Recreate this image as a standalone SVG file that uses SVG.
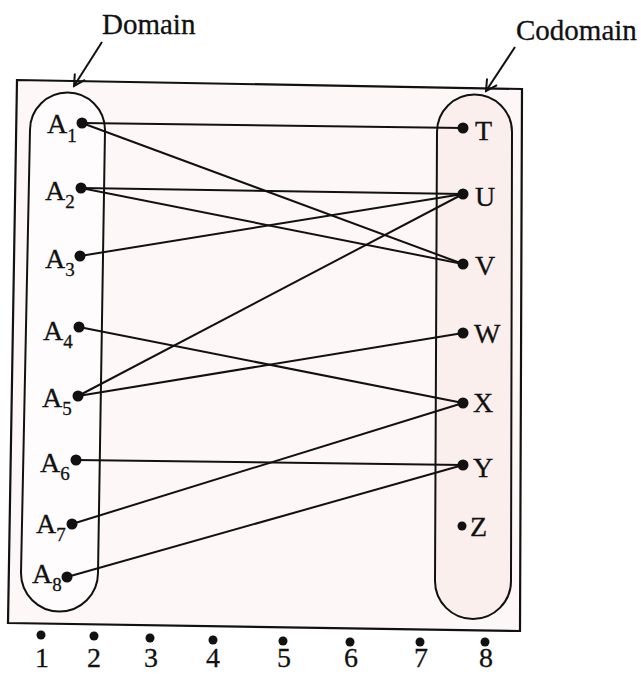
<svg xmlns="http://www.w3.org/2000/svg" width="641" height="675" viewBox="0 0 641 675">
<defs>
<marker id="ah" markerWidth="14" markerHeight="14" refX="12" refY="7" orient="auto" markerUnits="userSpaceOnUse">
<path d="M1,1 L12,7 L1,13" fill="none" stroke="#111" stroke-width="2"/>
</marker>
<style>
.t{font-family:"Liberation Serif","Times New Roman",serif;fill:#111;stroke:#111;stroke-width:0.3;font-size:28px}
.h{font-family:"Liberation Serif","Times New Roman",serif;fill:#111;stroke:#111;stroke-width:0.3;font-size:29px}
.s{font-size:19px}
.e{stroke:#111;stroke-width:2;fill:none}
.d{fill:#111}
</style>
</defs>
<rect width="641" height="675" fill="#ffffff"/>
<g id="frame">
<polygon points="17,80 522,89 520,631 8,623" fill="#fdf8f7" stroke="#111" stroke-width="2.2"/>
</g>
<g id="domain-set">
<path d="M30,130 A37.5,37.5 0 0 1 105,130 L98,573 A38.5,38.5 0 0 1 21,573 Z" fill="#fefcfc" stroke="#111" stroke-width="2"/>
</g>
<g id="codomain-set">
<path d="M437,132 A37.5,37.5 0 0 1 512,132 L511,581 A38,38 0 0 1 435,581 Z" fill="#fbefed" stroke="#111" stroke-width="2"/>
</g>
<g id="labels">
<g id="domain-label"><text class="h" x="102" y="34">Domain</text><line class="e" x1="102" y1="42" x2="74" y2="86" marker-end="url(#ah)"/></g>
<g id="codomain-label"><text class="h" x="516" y="40">Codomain</text><line class="e" x1="515" y1="47" x2="486" y2="91" marker-end="url(#ah)"/></g>
</g>
<g id="connectors">
<line class="e" x1="82" y1="123" x2="463" y2="128"/>
<line class="e" x1="82" y1="123" x2="463" y2="264"/>
<line class="e" x1="81" y1="188" x2="463" y2="194"/>
<line class="e" x1="81" y1="188" x2="463" y2="264"/>
<line class="e" x1="80" y1="256" x2="463" y2="194"/>
<line class="e" x1="79" y1="327" x2="463" y2="403"/>
<line class="e" x1="78" y1="396" x2="463" y2="194"/>
<line class="e" x1="78" y1="396" x2="463" y2="333"/>
<line class="e" x1="76" y1="460" x2="463" y2="465"/>
<line class="e" x1="72" y1="524" x2="463" y2="403"/>
<line class="e" x1="67" y1="577" x2="463" y2="465"/>
</g>
<g id="A1"><circle class="d" cx="82" cy="123" r="5.5"/><text class="t" x="47" y="133">A<tspan class="s" dy="9">1</tspan></text></g>
<g id="A2"><circle class="d" cx="81" cy="188" r="5.5"/><text class="t" x="45" y="200">A<tspan class="s" dy="8">2</tspan></text></g>
<g id="A3"><circle class="d" cx="80" cy="256" r="5.5"/><text class="t" x="45" y="268">A<tspan class="s" dy="8">3</tspan></text></g>
<g id="A4"><circle class="d" cx="79" cy="327" r="5.5"/><text class="t" x="43" y="340">A<tspan class="s" dy="8">4</tspan></text></g>
<g id="A5"><circle class="d" cx="78" cy="396" r="5.5"/><text class="t" x="42" y="407">A<tspan class="s" dy="8">5</tspan></text></g>
<g id="A6"><circle class="d" cx="76" cy="460" r="5.5"/><text class="t" x="40" y="472">A<tspan class="s" dy="8">6</tspan></text></g>
<g id="A7"><circle class="d" cx="72" cy="524" r="5.5"/><text class="t" x="36" y="533">A<tspan class="s" dy="8">7</tspan></text></g>
<g id="A8"><circle class="d" cx="67" cy="577" r="5.5"/><text class="t" x="32" y="583">A<tspan class="s" dy="8">8</tspan></text></g>
<g id="T"><circle class="d" cx="463" cy="128" r="5.5"/><text class="t" x="475" y="140">T</text></g>
<g id="U"><circle class="d" cx="463" cy="194" r="5.5"/><text class="t" x="475" y="206">U</text></g>
<g id="V"><circle class="d" cx="463" cy="264" r="5.5"/><text class="t" x="475" y="275">V</text></g>
<g id="W"><circle class="d" cx="463" cy="333" r="5.5"/><text class="t" x="474" y="343">W</text></g>
<g id="X"><circle class="d" cx="463" cy="403" r="5.5"/><text class="t" x="473" y="412">X</text></g>
<g id="Y"><circle class="d" cx="463" cy="465" r="5.5"/><text class="t" x="473" y="477">Y</text></g>
<g id="Z"><circle class="d" cx="462" cy="526" r="4.5"/><text class="t" x="470" y="536">Z</text></g>
<g id="axis">
<circle class="d" cx="41" cy="635" r="4.5"/><text class="t" x="42" y="667" text-anchor="middle">1</text>
<circle class="d" cx="94" cy="636" r="4.5"/><text class="t" x="94" y="667" text-anchor="middle">2</text>
<circle class="d" cx="150" cy="638" r="4.5"/><text class="t" x="151" y="667" text-anchor="middle">3</text>
<circle class="d" cx="213" cy="640" r="4.5"/><text class="t" x="213" y="667" text-anchor="middle">4</text>
<circle class="d" cx="283" cy="641" r="4.5"/><text class="t" x="284" y="667" text-anchor="middle">5</text>
<circle class="d" cx="350" cy="642" r="4.5"/><text class="t" x="351" y="667" text-anchor="middle">6</text>
<circle class="d" cx="420" cy="642" r="4.5"/><text class="t" x="421" y="667" text-anchor="middle">7</text>
<circle class="d" cx="485" cy="642" r="4.5"/><text class="t" x="486" y="667" text-anchor="middle">8</text>
</g>
</svg>
